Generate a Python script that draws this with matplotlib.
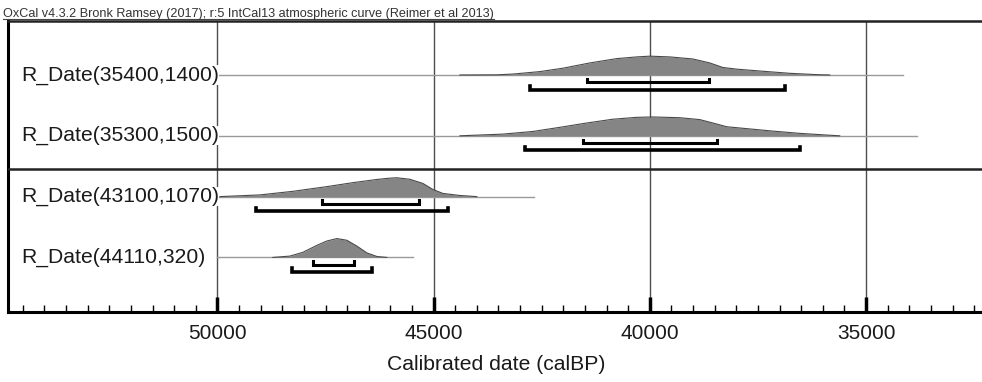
import numpy as np
import matplotlib.pyplot as plt
from matplotlib.ticker import MultipleLocator

plt.rcParams['font.family'] = ['Liberation Sans', 'DejaVu Sans']

# ---- data ----
labels = ['R_Date(35400,1400)', 'R_Date(35300,1500)',
          'R_Date(43100,1070)', 'R_Date(44110,320)']

# probability profiles: calendar years (calBP) and relative height
years_1 = [44392, 43537, 43167, 42543, 42011, 41387, 40763, 40301, 40000,
           39538, 39006, 38613, 38313, 37989, 37388, 36764, 36140, 35839]
prob_1 = [0.0, 0.01, 0.05, 0.18, 0.36, 0.64, 0.87, 0.96, 1.0,
          0.96, 0.85, 0.64, 0.40, 0.31, 0.20, 0.09, 0.02, 0.0]

years_2 = [44392, 43398, 42705, 42080, 41456, 40855, 40301, 39931, 39307,
           38844, 38544, 38220, 37758, 37157, 36533, 35908, 35608]
prob_2 = [0.0, 0.09, 0.23, 0.45, 0.68, 0.88, 0.98, 1.0, 0.96,
          0.86, 0.68, 0.48, 0.38, 0.25, 0.13, 0.04, 0.0]

years_3 = [49942, 49018, 48255, 47469, 46868, 46313, 46012, 45851, 45550,
           45249, 45018, 44787, 44394, 44001]
prob_3 = [0.0, 0.09, 0.28, 0.53, 0.74, 0.91, 0.98, 1.0, 0.92,
          0.70, 0.38, 0.17, 0.06, 0.0]

years_4 = [48717, 48324, 48024, 47700, 47469, 47238, 47007, 46775, 46544,
           46313, 46082]
prob_4 = [0.0, 0.07, 0.27, 0.64, 0.87, 1.0, 0.91, 0.60, 0.24, 0.05, 0.0]

profiles = [(years_1, prob_1), (years_2, prob_2),
            (years_3, prob_3), (years_4, prob_4)]

# extent of the thin line for each date
line_from = [50000, 50000, 50000, 50000]
line_to = [34145, 33830, 42672, 45470]

# 68.2% and 95.4% ranges
range_68 = [(41456, 38636), (41549, 38451), (47580, 45345), (47781, 46833)]
range_95 = [(42774, 36879), (42890, 36526), (49106, 44677), (48273, 46433)]

header = ('OxCal v4.3.2 Bronk Ramsey (2017); r:5 IntCal13 atmospheric curve '
          '(Reimer et al 2013)')
x_label = 'Calibrated date (calBP)'

# ---- drawing ----
fig = plt.figure(figsize=(9.82, 3.82), dpi=100)
ax = fig.add_axes([8 / 982, 0.184, 1 - 8 / 982, 0.7618])

peak = 0.31
off68, off95, hook = 0.123, 0.24, 0.06

for i, (yrs, p) in enumerate(profiles):
    y0 = i
    ax.plot([line_from[i], line_to[i]], [y0, y0], color='#9a9a9a', lw=1.0,
            zorder=2)
    h = y0 - peak * np.array(p)
    ax.fill_between(yrs, y0, h, color='#858585', lw=0, zorder=3)
    ax.plot(yrs, h, color='#4a4a4a', lw=0.8, zorder=3)
    for (a, b), off, lw in [(range_68[i], off68, 2.2), (range_95[i], off95, 2.6)]:
        yb = y0 + off
        ax.plot([a, a, b, b], [yb - hook, yb, yb, yb - hook], color='black',
                lw=lw, solid_joinstyle='miter', zorder=4)
    ax.text(54843 - 13 * 23.1, y0, labels[i], fontsize=15.2, color='#1a1a1a',
            va='center', ha='left', zorder=5,
            bbox=dict(facecolor='white', edgecolor='none', pad=0))

for g in [50000, 45000, 40000, 35000]:
    ax.axvline(g, color='#4d4d4d', lw=1.0, zorder=1)

ax.axhline(1.55, color='#222222', lw=1.8, zorder=6)

ax.set_xlim(54843, 32318)
ax.set_ylim(3.893, -0.893)

ax.spines['right'].set_visible(False)
ax.spines['left'].set_linewidth(2.2)
ax.spines['bottom'].set_linewidth(2.2)
ax.spines['top'].set_linewidth(1.8)
ax.spines['top'].set_color('#222222')

ax.xaxis.set_major_locator(MultipleLocator(5000))
ax.xaxis.set_minor_locator(MultipleLocator(500))
ax.tick_params(axis='x', which='major', direction='in', length=11, width=2.5,
               labelsize=15, pad=9, colors='black', labelcolor='#1a1a1a')
ax.tick_params(axis='x', which='minor', direction='in', length=5, width=1)
ax.xaxis.set_major_formatter(plt.FuncFormatter(lambda v, pos: f'{int(v)}'))
ax.set_yticks([])
ax.set_xlabel(x_label, fontsize=15.2, color='#1a1a1a')
ax.xaxis.set_label_coords((496 - 8) / 974, -0.15)

head = fig.text(3 / 982, 1 - 17 / 382, header, fontsize=9.1, color='#333333',
                ha='left', va='baseline')
fig.canvas.draw()
bb = head.get_window_extent(fig.canvas.get_renderer())
fig.add_artist(plt.Line2D([bb.x0 / 982, bb.x1 / 982], [1 - 18.6 / 382] * 2,
                          color='#444444', lw=0.8))

fig.savefig('out.png', dpi=100)
